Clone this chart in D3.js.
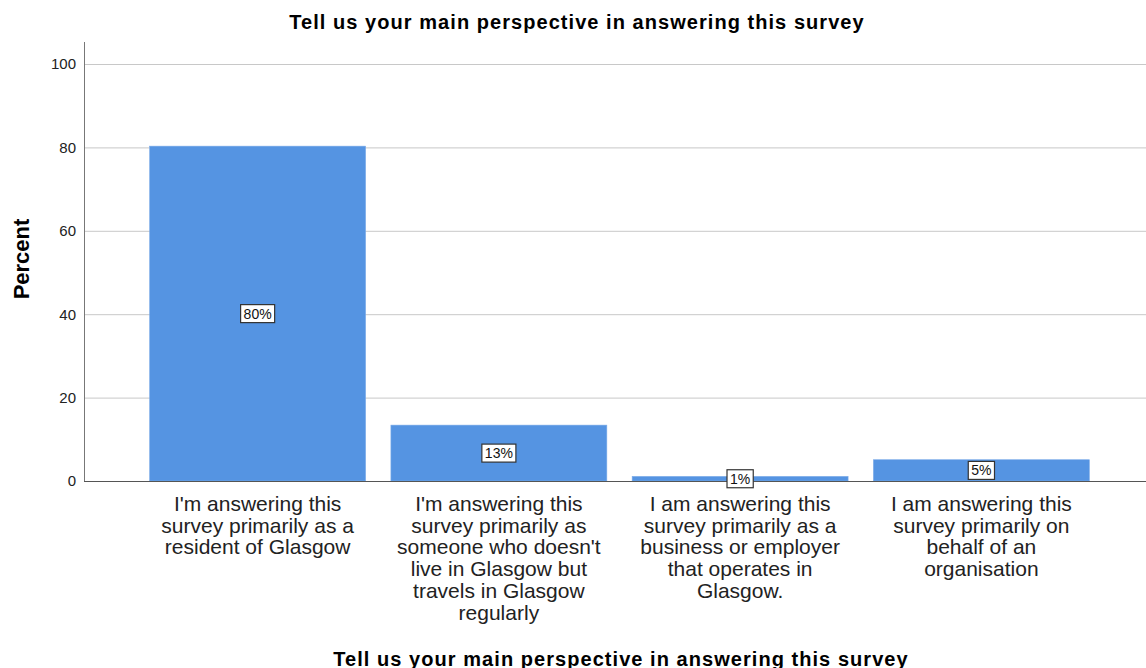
<!DOCTYPE html>
<html>
<head>
<meta charset="utf-8">
<script src="https://cdn.jsdelivr.net/npm/d3@7"></script>
<style>
  body { margin: 0; background: #fff; }
  svg { display: block; font-family: Arial, "Liberation Sans", sans-serif; }
</style>
</head>
<body>
<div id="chart"></div>
<script>
// chart data
const categories = [
    ["I'm answering this", "survey primarily as a", "resident of Glasgow"],
    ["I'm answering this", "survey primarily as", "someone who doesn't", "live in Glasgow but", "travels in Glasgow", "regularly"],
    ["I am answering this", "survey primarily as a", "business or employer", "that operates in", "Glasgow."],
    ["I am answering this", "survey primarily on", "behalf of an", "organisation"]
];
const percents = [80.3, 13.4, 1.1, 5.1];
const percentLabels = ["80%", "13%", "1%", "5%"];
const yTicks = [0, 20, 40, 60, 80, 100];
const chartTitle = "Tell us your main perspective in answering this survey";

const width = 1146, height = 668;
const axisX = 84, baseY = 481;

const svg = d3.select('#chart')
    .append('svg')
    .attr('width', width)
    .attr('height', height);

const keys = categories.map((c, i) => i);

const xScale = d3.scaleBand()
    .domain(keys)
    .range([137, 1102])
    .paddingInner(0.105)
    .paddingOuter(0.0525);

const yScale = d3.scaleLinear()
    .domain([0, 100])
    .range([baseY, 64]);

// gridlines
svg.append('g')
    .selectAll('line')
    .data(yTicks.filter(d => d > 0))
    .join('line')
    .attr('x1', axisX)
    .attr('x2', width)
    .attr('y1', d => yScale(d) + 0.5)
    .attr('y2', d => yScale(d) + 0.5)
    .attr('stroke', '#c8c8c8')
    .attr('stroke-width', 1);

// y axis
const yAxis = svg.append('g')
    .attr('transform', `translate(${axisX}, 0)`)
    .call(d3.axisLeft(yScale).tickValues(yTicks).tickSize(0).tickPadding(8));
yAxis.select('.domain').remove();
yAxis.selectAll('text')
    .style('font-size', '15px')
    .style('font-family', 'Arial, "Liberation Sans", sans-serif')
    .attr('fill', '#222');

// bars
svg.append('g')
    .selectAll('rect')
    .data(percents)
    .join('rect')
    .attr('x', (d, i) => xScale(i))
    .attr('width', xScale.bandwidth())
    .attr('y', d => yScale(d))
    .attr('height', d => baseY - yScale(d))
    .attr('fill', '#5594e2')
    .attr('stroke', '#7aaae8')
    .attr('stroke-width', 0.6);

// axis lines
svg.append('line')
    .attr('x1', axisX + 0.5).attr('x2', axisX + 0.5)
    .attr('y1', 42).attr('y2', baseY)
    .attr('stroke', '#777');
svg.append('line')
    .attr('x1', axisX).attr('x2', width)
    .attr('y1', baseY + 0.5).attr('y2', baseY + 0.5)
    .attr('stroke', '#555');

// value labels in boxes
const labels = svg.append('g')
    .selectAll('g')
    .data(percents)
    .join('g')
    .attr('transform', (d, i) => `translate(${xScale(i) + xScale.bandwidth() / 2}, ${(yScale(d) + baseY) / 2})`);

labels.append('text')
    .attr('text-anchor', 'middle')
    .attr('dy', '0.36em')
    .style('font-size', '14px')
    .attr('fill', '#111')
    .text((d, i) => percentLabels[i]);

labels.each(function () {
    const g = d3.select(this);
    const bb = g.select('text').node().getBBox();
    g.insert('rect', 'text')
        .attr('x', bb.x - 3)
        .attr('y', bb.y - 1)
        .attr('width', bb.width + 6)
        .attr('height', bb.height + 2)
        .attr('fill', '#fff')
        .attr('stroke', '#333')
        .attr('stroke-width', 1.2);
});

// category labels
const catText = svg.append('g')
    .selectAll('text')
    .data(categories)
    .join('text')
    .attr('text-anchor', 'middle')
    .attr('x', (d, i) => xScale(i) + xScale.bandwidth() / 2)
    .attr('y', 511)
    .style('font-size', '21px')
    .attr('fill', '#222');

catText.selectAll('tspan')
    .data(d => d)
    .join('tspan')
    .attr('x', function () { return d3.select(this.parentNode).attr('x'); })
    .attr('dy', (d, i) => i === 0 ? 0 : 21.7)
    .text(d => d);

// titles
svg.append('text')
    .attr('x', 577)
    .attr('y', 29)
    .attr('text-anchor', 'middle')
    .style('font-size', '20px')
    .style('font-weight', 'bold')
    .style('letter-spacing', '1.05px')
    .text(chartTitle);

svg.append('text')
    .attr('transform', 'rotate(-90)')
    .attr('x', -259)
    .attr('y', 29)
    .attr('text-anchor', 'middle')
    .style('font-size', '22px')
    .style('font-weight', 'bold')
    .text('Percent');

svg.append('text')
    .attr('x', 621)
    .attr('y', 666)
    .attr('text-anchor', 'middle')
    .style('font-size', '20px')
    .style('font-weight', 'bold')
    .style('letter-spacing', '1.05px')
    .text(chartTitle);
</script>
</body>
</html>
